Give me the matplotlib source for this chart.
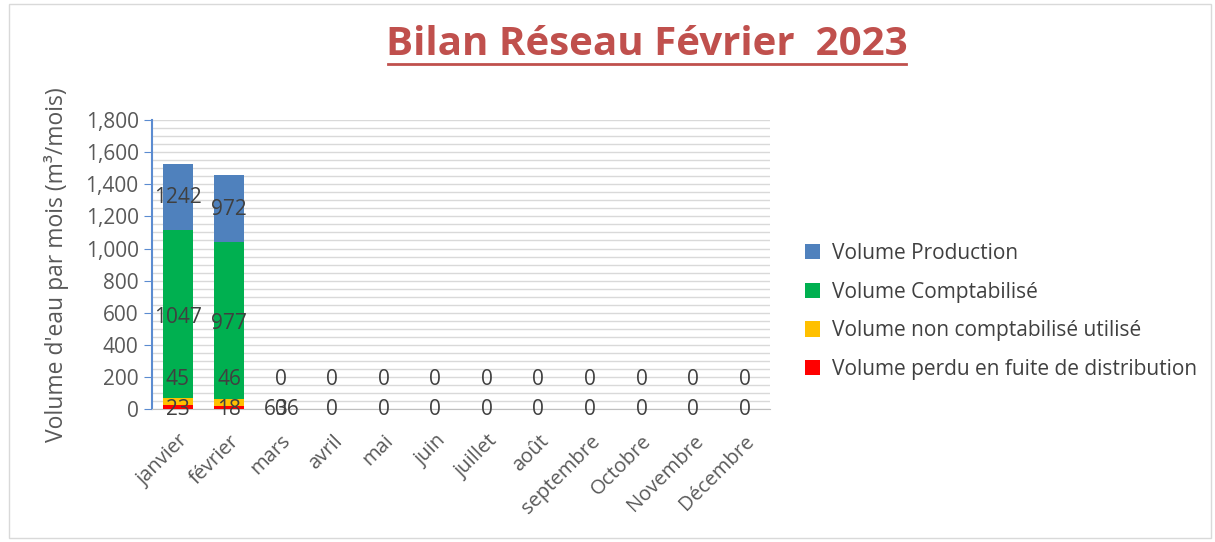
import matplotlib.pyplot as plt
from matplotlib.lines import Line2D
from matplotlib.patches import Rectangle
from matplotlib.ticker import FuncFormatter, MultipleLocator

mois = ['janvier', 'février', 'mars', 'avril', 'mai', 'juin', 'juillet', 'août',
        'septembre', 'Octobre', 'Novembre', 'Décembre']
perdu = [23, 18, 0, 0, 0, 0, 0, 0, 0, 0, 0, 0]
non_compta = [45, 46, 0, 0, 0, 0, 0, 0, 0, 0, 0, 0]
compta = [1047, 977, 0, 0, 0, 0, 0, 0, 0, 0, 0, 0]
production = [411, 416, 0, 0, 0, 0, 0, 0, 0, 0, 0, 0]

# texts shown in the data labels (as printed on the source chart)
lab_perdu = ['23', '18', '60', '0', '0', '0', '0', '0', '0', '0', '0', '0']
lab_non_compta = ['45', '46', '0', '0', '0', '0', '0', '0', '0', '0', '0', '0']
lab_compta = ['1047', '977']
lab_production = ['1242', '972']

c_blue = '#4F81BD'
c_green = '#00B050'
c_yellow = '#FFC000'
c_red = '#FF0000'
txt = '#404040'

plt.rcParams['font.family'] = ['Open Sans', 'DejaVu Sans']

fig = plt.figure(figsize=(12.15, 5.42), dpi=100)
ax = fig.add_axes([0.125, 0.2454, 0.509, 0.533])

X = list(range(len(mois)))
w = 0.58
b1 = perdu
b2 = [a + b for a, b in zip(b1, non_compta)]
b3 = [a + b for a, b in zip(b2, compta)]
ax.bar(X, production, w, bottom=b3, color=c_blue, label='Volume Production', zorder=3)
ax.bar(X, compta, w, bottom=b2, color=c_green, label='Volume Comptabilisé', zorder=3)
ax.bar(X, non_compta, w, bottom=b1, color=c_yellow, label='Volume non comptabilisé utilisé', zorder=3)
ax.bar(X, perdu, w, color=c_red, label='Volume perdu en fuite de distribution', zorder=3)

fs = 15
for i in X:
    if i == 2:
        ax.text(i - 0.1, -5, '60', ha='center', va='center', fontsize=fs, color=txt, zorder=4)
        ax.text(i + 0.12, -5, '36', ha='center', va='center', fontsize=fs, color=txt, zorder=4)
    else:
        ax.text(i, -5, lab_perdu[i], ha='center', va='center', fontsize=fs, color=txt, zorder=4)
    ax.text(i, 185, lab_non_compta[i], ha='center', va='center', fontsize=fs, color=txt, zorder=4)
for i in range(len(lab_compta)):
    ax.text(i, b2[i] + compta[i] / 2 - 20, lab_compta[i], ha='center', va='center', fontsize=fs, color=txt, zorder=4)
    ax.text(i, b3[i] + production[i] / 2 - 5, lab_production[i], ha='center', va='center', fontsize=fs, color=txt, zorder=4)

ax.set_xlim(-0.5, 11.5)
ax.set_ylim(0, 1800)
ax.yaxis.set_major_locator(MultipleLocator(200))
ax.yaxis.set_minor_locator(MultipleLocator(50))
ax.yaxis.set_major_formatter(FuncFormatter(lambda v, p: f'{int(v):,}'))
ax.grid(axis='y', which='both', color='#D9D9D9', linewidth=1, zorder=0)
ax.tick_params(axis='y', which='minor', length=0)
ax.tick_params(axis='y', which='major', length=6, color='#5B8BD0', labelsize=15, labelcolor='#595959')
ax.tick_params(axis='x', length=0, labelsize=14.5, labelcolor='#595959', pad=16)
ax.set_xticks(X)
ax.set_xticklabels(mois, rotation=45, ha='right', rotation_mode='anchor')
for s in ['top', 'right']:
    ax.spines[s].set_visible(False)
ax.spines['left'].set_color('#5B8BD0')
ax.spines['left'].set_linewidth(1.5)
ax.spines['bottom'].set_color('#BFBFBF')
ax.set_ylabel("Volume d'eau par mois (m³/mois)", fontsize=16.5, color='#595959', labelpad=12)

ax.legend(loc='upper left', bbox_to_anchor=(1.025, 0.64), frameon=False, fontsize=15,
          handlelength=0.75, handleheight=0.75, handletextpad=0.55, labelspacing=0.85,
          labelcolor='#404040')

fig.text(0.532, 0.918, 'Bilan Réseau Février  2023', ha='center', va='center',
         fontsize=29, fontweight='bold', color='#C0504D')
fig.add_artist(Line2D([0.319, 0.746], [0.882, 0.882], color='#C0504D', linewidth=2))
fig.add_artist(Rectangle((0.007, 0.007), 0.99, 0.986, fill=False, edgecolor='#D9D9D9', linewidth=1))

fig.savefig('out.png', dpi=100)
